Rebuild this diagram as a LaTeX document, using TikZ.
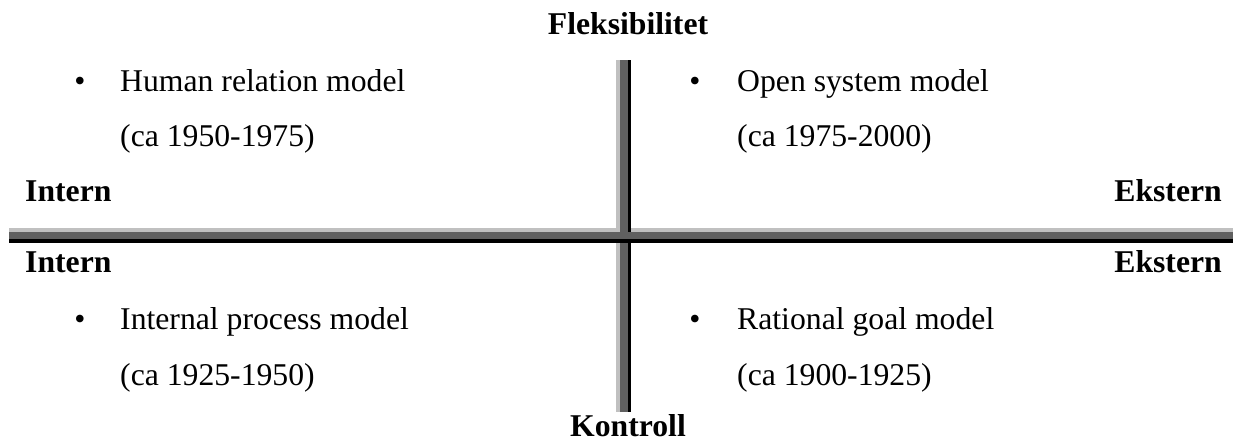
\documentclass[tikz,border=0pt]{standalone}
\usepackage{fontspec}
\setmainfont{Liberation Serif}
\definecolor{barlight}{RGB}{192,192,192}
\definecolor{bardark}{RGB}{96,96,96}
\begin{document}
\begin{tikzpicture}[x=1pt,y=-1pt,
  txt/.style={inner sep=0pt, anchor=base west, font=\fontsize{31.7}{38}\selectfont},
  hdr/.style={inner sep=0pt, font=\fontsize{31.7}{38}\selectfont\bfseries},
  bul/.style={inner sep=0pt, anchor=base, font=\fontsize{31.7}{38}\selectfont}]
\useasboundingbox (0,0) rectangle (1233,443);
% horizontal bar
\fill[barlight] (9,228) rectangle (1233,232);
\fill[bardark] (9,232) rectangle (1233,239);
\fill[black] (9,239) rectangle (1233,243);
% vertical bar top
\fill[barlight] (616,60) rectangle (620,232);
\fill[bardark] (620,60) rectangle (628,232);
\fill[black] (628,60) rectangle (631,232);
% vertical bar bottom
\fill[barlight] (616,243) rectangle (620,412);
\fill[bardark] (620,243) rectangle (628,412);
\fill[black] (628,243) rectangle (631,412);
% headings
\node[hdr, anchor=base] (flex) at (628,35) {Fleksibilitet};
\node[hdr, anchor=base] (kontr) at (628,436) {Kontroll};
\node[hdr, anchor=base west] (int1) at (25,202) {Intern};
\node[hdr, anchor=base west] (int2) at (25,273) {Intern};
\node[hdr, anchor=base east] (eks1) at (1222,202) {Ekstern};
\node[hdr, anchor=base east] (eks2) at (1222,273) {Ekstern};
% quadrant texts
\node[bul] (b1) at (80,92) {•};
\node[txt] (t1) at (120,92) {Human relation model};
\node[txt] (d1) at (120,147) {(ca 1950-1975)};
\node[bul] (b2) at (695,92) {•};
\node[txt] (t2) at (737,92) {Open system model};
\node[txt] (d2) at (737,147) {(ca 1975-2000)};
\node[bul] (b3) at (80,330) {•};
\node[txt] (t3) at (120,330) {Internal process model};
\node[txt] (d3) at (120,385) {(ca 1925-1950)};
\node[bul] (b4) at (695,330) {•};
\node[txt] (t4) at (737,330) {Rational goal model};
\node[txt] (d4) at (737,385) {(ca 1900-1925)};
\end{tikzpicture}
\end{document}
